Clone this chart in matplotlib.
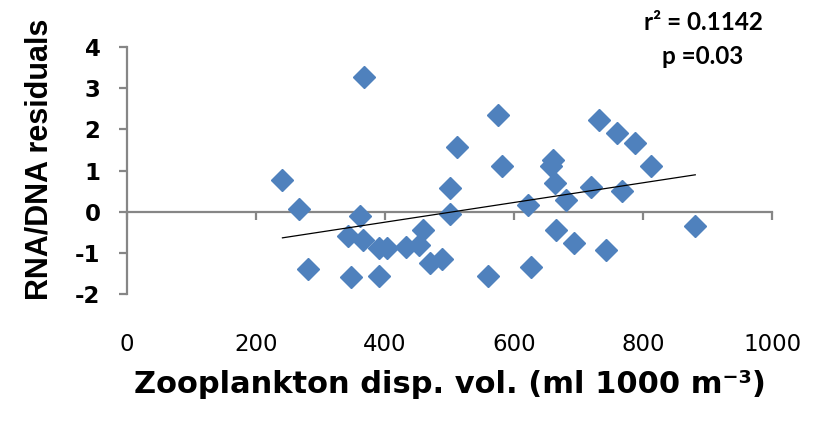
import numpy as np
import matplotlib
matplotlib.use("Agg")
import matplotlib.pyplot as plt

plt.rcParams["axes.unicode_minus"] = False

# zooplankton displacement volume vs RNA/DNA residuals
zoo_vol = [241, 266, 280, 368, 362, 343, 366, 348, 390, 403, 390, 433,
           453, 459, 470, 488, 500, 501, 511, 559, 575, 582, 622, 627,
           661, 658, 664, 665, 681, 693, 719, 732, 742, 760, 768, 788,
           812, 881]
residuals = [0.76, 0.07, -1.39, 3.26, -0.11, -0.60, -0.70, -1.59, -0.88, -0.88,
             -1.57, -0.86, -0.80, -0.45, -1.25, -1.15, -0.06, 0.58, 1.58, -1.57,
             2.34, 1.12, 0.17, -1.34, 1.25, 1.10, 0.70, -0.44, 0.29, -0.76,
             0.60, 2.23, -0.92, 1.91, 0.51, 1.67, 1.12, -0.34]

x_ticks = [0, 200, 400, 600, 800, 1000]
y_ticks = [-2, -1, 0, 1, 2, 3, 4]

axis_grey = "#868686"
marker_blue = "#4F81BD"

fig = plt.figure(figsize=(8.22, 4.24), dpi=100)
ax = fig.add_axes([127 / 822, 1 - 294 / 424, 645 / 822, 247 / 424])

ax.plot(zoo_vol, residuals, linestyle="none", marker="D", markersize=11.5,
        color=marker_blue, zorder=3)

# linear trendline over the data range
slope, intercept = np.polyfit(zoo_vol, residuals, 1)
xs = np.array([min(zoo_vol), max(zoo_vol)])
ax.plot(xs, slope * xs + intercept, color="black", linewidth=0.9, zorder=4)

ax.set_xlim(0, 1000)
ax.set_ylim(-2, 4)

# x axis line crosses at y = 0, labels stay at the bottom
for side in ("top", "right"):
    ax.spines[side].set_visible(False)
ax.spines["bottom"].set_position(("data", 0))
for side in ("bottom", "left"):
    ax.spines[side].set_color(axis_grey)
    ax.spines[side].set_linewidth(1.6)

ax.set_xticks(x_ticks)
ax.tick_params(axis="x", direction="out", length=6, width=1.6,
               color=axis_grey, labelbottom=False)
ax.set_yticks(y_ticks)
ax.tick_params(axis="y", direction="out", length=6, width=1.6,
               color=axis_grey, pad=13)
for lab in ax.get_yticklabels():
    lab.set_fontfamily("DejaVu Sans")
    lab.set_fontweight("bold")
    lab.set_fontsize(16.5)

sec = ax.secondary_xaxis(0)
sec.set_xticks(x_ticks)
sec.spines["bottom"].set_visible(False)
sec.tick_params(axis="x", length=0, pad=28)
for lab in sec.get_xticklabels():
    lab.set_fontfamily("DejaVu Sans")
    lab.set_fontweight("medium")
    lab.set_fontsize(16.5)
sec.set_xlabel("Zooplankton disp. vol. (ml 1000 m\u207b\u00b3)",
               fontfamily="DejaVu Sans", fontweight="bold", fontsize=22,
               labelpad=10)

ax.set_ylabel("RNA/DNA residuals", fontfamily="Liberation Sans",
              fontweight="bold", fontsize=22, va="center")
ax.yaxis.set_label_coords(-0.136, 0.547)

ax.text(0.893, 1.101, "r\u00b2 = 0.1142", transform=ax.transAxes,
        ha="center", va="center", fontfamily="Lato", fontweight="bold",
        fontsize=17.5)
ax.text(0.893, 0.96, "p =0.03", transform=ax.transAxes,
        ha="center", va="center", fontfamily="Lato", fontweight="bold",
        fontsize=17.5)

fig.savefig("out.png", dpi=100)
